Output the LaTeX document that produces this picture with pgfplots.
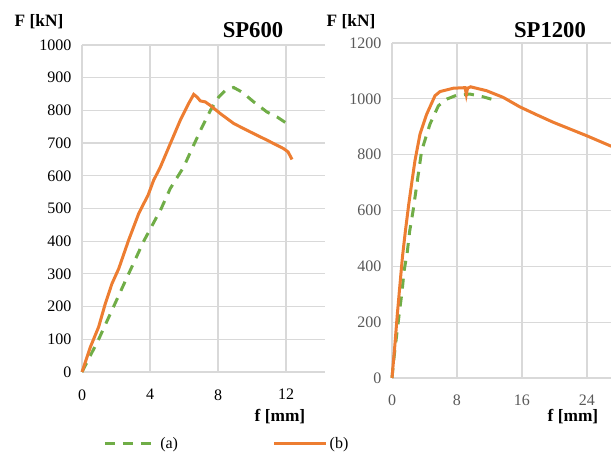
\documentclass[border=0pt]{standalone}
\usepackage{fontspec}
\setmainfont{Liberation Serif}
\usepackage{pgfplots}
\pgfplotsset{compat=1.18}
\definecolor{exgreen}{HTML}{70AD47}
\definecolor{exorange}{HTML}{ED7D31}
\definecolor{exgrid}{HTML}{D9D9D9}
\definecolor{exgray}{HTML}{595959}
\begin{document}
\begin{tikzpicture}
\useasboundingbox (0,0) rectangle (458.25pt,342.75pt);
\pgfplotsset{
  exstyle/.style={
    scale only axis,
    anchor=origin,
    axis line style={draw=none},
    major tick length=0pt,
    grid=major,
    major grid style={exgrid, line width=0.9pt},
    /pgf/number format/assume math mode=true,
    /pgf/number format/1000 sep={},
    tick label style={font=\fontsize{12}{14}\selectfont},
    yticklabel style={xshift=-4.5pt},
    clip=false,
  }
}
% Left panel SP600
\begin{axis}[exstyle,
  at={(61.5pt,63.75pt)},
  width=182.25pt, height=245.25pt,
  xmin=0, xmax=14.29, ymin=0, ymax=1000,
  xtick={0,4,8,12}, ytick={0,100,...,1000},
  xticklabel style={yshift=-9.5pt},
  legend columns=2,
  legend style={at={(0.0864,-0.22)}, anchor=west, draw=none, fill=none,
    font=\fontsize{12}{14}\selectfont, inner sep=0pt,
    nodes={inner sep=0pt},
    /tikz/every odd column/.append style={column sep=1.5pt},
    /tikz/every even column/.append style={column sep=71pt}},
  legend image code/.code={\draw[#1] (0pt,0pt) -- (39pt,0pt);},
]
\addplot[exgreen, line width=2.25pt, dash pattern=on 7.5pt off 6pt] coordinates {
(0,0) (0.98,100) (1.86,200) (2.74,300) (3.63,400) (4.66,500) (5.19,561) (5.98,627) (6.47,683) (7.06,749) (7.55,800) (8.04,841) (8.43,861) (8.92,870) (9.41,856) (10.1,826) (10.88,795) (11.47,780) (12.02,761)
};
\addlegendentry{(a)}
\addplot[exorange, line width=2.25pt] coordinates {
(0,0) (0.49,76) (0.98,138) (1.37,209) (1.76,270) (2.16,316) (2.74,403) (3.33,484) (3.63,515) (3.88,540) (4.21,586) (4.61,627) (5.19,698) (5.78,770) (6.27,821) (6.57,849) (6.76,841) (6.96,829) (7.25,826) (7.55,815) (8.14,790) (8.92,760) (9.9,734) (10.88,709) (11.86,683) (12.12,673) (12.25,660) (12.35,650)
};
\addlegendentry{(b)}
\end{axis}
% Right panel SP1200
\begin{axis}[exstyle,
  at={(294pt,59.25pt)},
  width=164.5pt, height=251.25pt,
  xmin=0, xmax=27, ymin=0, ymax=1200,
  xtick={0,8,16,24}, ytick={0,200,...,1200},
  xticklabel style={yshift=-9pt},
  tick label style={text=exgray},
]
\addplot[exgreen, line width=2.25pt, dash pattern=on 7.5pt off 6pt] coordinates {
(0,0) (0.25,74) (0.6,160) (0.95,245) (1.24,310) (1.48,382) (1.89,453) (2.17,525) (2.58,596) (2.99,680) (3.65,814) (4.68,910) (5.71,975) (6.74,999) (7.96,1013) (9.6,1017) (11.24,1007) (12.68,995)
};
\addplot[exorange, line width=2.25pt] coordinates {
(0,0) (0.33,110) (0.66,230) (0.95,325) (1.28,432) (1.65,527) (2.06,622) (2.46,705) (2.83,779) (3.45,874) (4.27,945) (5.29,1011) (5.91,1026) (7.55,1038) (9.0,1040) (9.15,1016) (9.3,1038) (9.68,1043) (11.65,1029) (13.7,1005) (15.75,971) (17.8,943) (19.85,916) (21.9,892) (23.95,868) (27,830)
};
\end{axis}
% Texts
\node[font=\bfseries\fontsize{13}{15}\selectfont] at (29.25pt,326.25pt) {F [kN]};
\node[font=\bfseries\fontsize{17}{20}\selectfont] at (189.75pt,320.25pt) {SP600};
\node[font=\bfseries\fontsize{13}{15}\selectfont] at (210pt,30pt) {f [mm]};
\node[font=\bfseries\fontsize{13}{15}\selectfont] at (263.25pt,326.25pt) {F [kN]};
\node[font=\bfseries\fontsize{17}{20}\selectfont] at (412.5pt,320.25pt) {SP1200};
\node[font=\bfseries\fontsize{13}{15}\selectfont] at (429.75pt,30pt) {f [mm]};
\end{tikzpicture}
\end{document}
